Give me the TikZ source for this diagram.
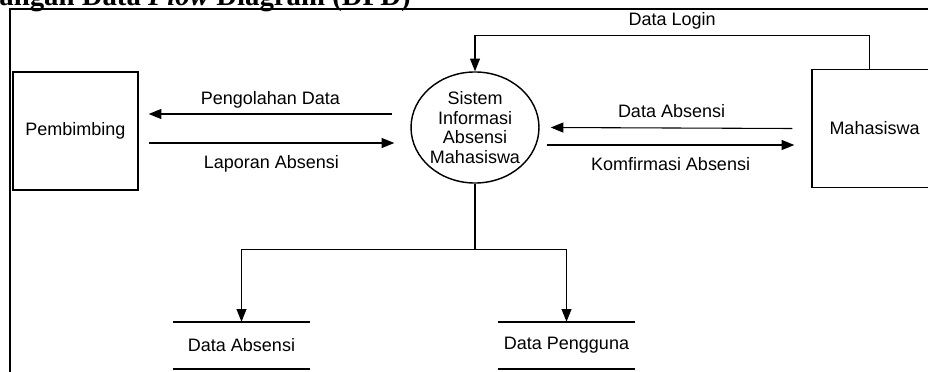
\documentclass[tikz,border=0pt]{standalone}
\usepackage{fontspec}
\setmainfont{Liberation Sans}
\newfontfamily\titlefont{Liberation Serif}
\usetikzlibrary{shapes.geometric,arrows.meta,positioning,calc}

\begin{document}
\begin{tikzpicture}[
    x=0.5556pt, y=0.5556pt,
    entity/.style={draw, line width=0.8pt, minimum width=69.4pt, minimum height=65.6pt, inner sep=0pt},
    proc/.style={ellipse, draw, line width=0.8pt, minimum width=71.1pt, minimum height=61.7pt, inner sep=0pt, align=center, font=\fontsize{10}{10.8}\selectfont},
    store/.style={minimum width=76.1pt, minimum height=26.1pt, inner sep=0pt},
    storeline/.style={line width=1.1pt},
    flow/.style={-{Triangle[length=7pt,width=5.5pt]}, line width=0.6pt},
    flowtext/.style={inner sep=0pt}
]

\useasboundingbox (0,0) rectangle (928,371);

% Frame and title
\draw[line width=1.1pt] (10,-5) -- (10,362) -- (940,362);
\node[anchor=base east, inner sep=0pt, font=\titlefont\fontsize{16}{18}\selectfont\bfseries] (title) at (411,365) {angan Data \textit{Flow} Diagram (DFD)};

% Entities and process
\node[entity] (pembimbing) at (75.5,240) {Pembimbing};
\node[entity] (mahasiswa) at (874.5,242.5) {Mahasiswa};
\node[proc] (sistem) at (475,243.5) {Sistem\\Informasi\\Absensi\\Mahasiswa};

% Data stores
\node[store] (absensi) at (241.5,25.5) {Data Absensi};
\node[store] (pengguna) at (566.5,25.5) {Data Pengguna};
\foreach \s in {absensi,pengguna} {
  \draw[storeline] (\s.north west) -- (\s.north east);
  \draw[storeline] (\s.south west) -- (\s.south east);
}

% Flows with Pembimbing
\draw[flow] ($(sistem.west)+(-18,13.5)$) -- ($(pembimbing.east)+(10,17)$) node[flowtext, midway, above=3.1pt] {Pengolahan Data};
\draw[flow] ($(pembimbing.east)+(10,-12)$) -- ($(sistem.west)+(-16,-15.5)$) node[flowtext, midway, below=6.4pt] {Laporan Absensi};

% Flows with Mahasiswa
\draw[flow] ($(mahasiswa.west)+(-19,0)$) -- ($(sistem.east)+(11,0)$) node[flowtext, midway, above=5.3pt] {Data Absensi};
\draw[flow] ($(sistem.east)+(7,-17.5)$) -- ($(mahasiswa.west)+(-17,-16.5)$) node[flowtext, midway, below=6.4pt] {Komfirmasi Absensi};
\draw[flow] ([xshift=-3pt]mahasiswa.north) -- ++(0,33) -| (sistem.north) node[flowtext, pos=0.25, above=3.1pt] {Data Login};

% Flows to stores
\draw[flow] (sistem.south) -- ++(0,-66) coordinate (split) -| (absensi.north);
\draw[flow] (split) -| (pengguna.north);

\end{tikzpicture}
\end{document}
